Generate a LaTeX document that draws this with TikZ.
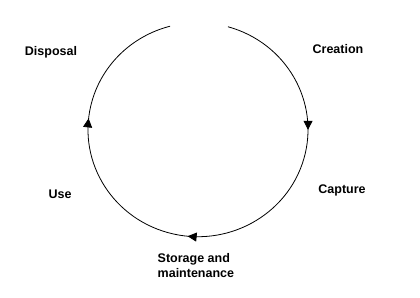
\documentclass[tikz,border=0pt]{standalone}
\usepackage{fontspec}
\setmainfont{Liberation Sans}
\usetikzlibrary{decorations.markings,arrows.meta}
\tikzset{mytip/.tip={Triangle[width=9pt,length=9pt]}}
\begin{document}
\begin{tikzpicture}[x=1pt,y=1pt,
  lbl/.style={font=\bfseries\fontsize{12.5}{15}\selectfont, inner sep=0pt}]
\useasboundingbox (0,0) rectangle (420,297);
\fill[white] (0,0) rectangle (420,297);
\coordinate (c) at (198,167.3);
\draw[line width=0.8pt,
  postaction={decorate,decoration={markings,
    mark=at position 0.225 with {\arrow{mytip}},
    mark=at position 0.515 with {\arrow{mytip}},
    mark=at position 0.79 with {\arrow{mytip}}}}]
  ([shift={(74.2:110 and 107)}]c) arc[start angle=74.2, end angle=-255.3, x radius=110, y radius=107];
\node[lbl] (disposal) at (51,245) {Disposal};
\node[lbl] (creation) at (338,248) {Creation};
\node[lbl] (capture) at (342,107) {Capture};
\node[lbl] (use) at (60,103) {Use};
\node[lbl, anchor=north west, align=left] (storage) at (157.5,43.5) {Storage and\\maintenance};
\end{tikzpicture}
\end{document}
